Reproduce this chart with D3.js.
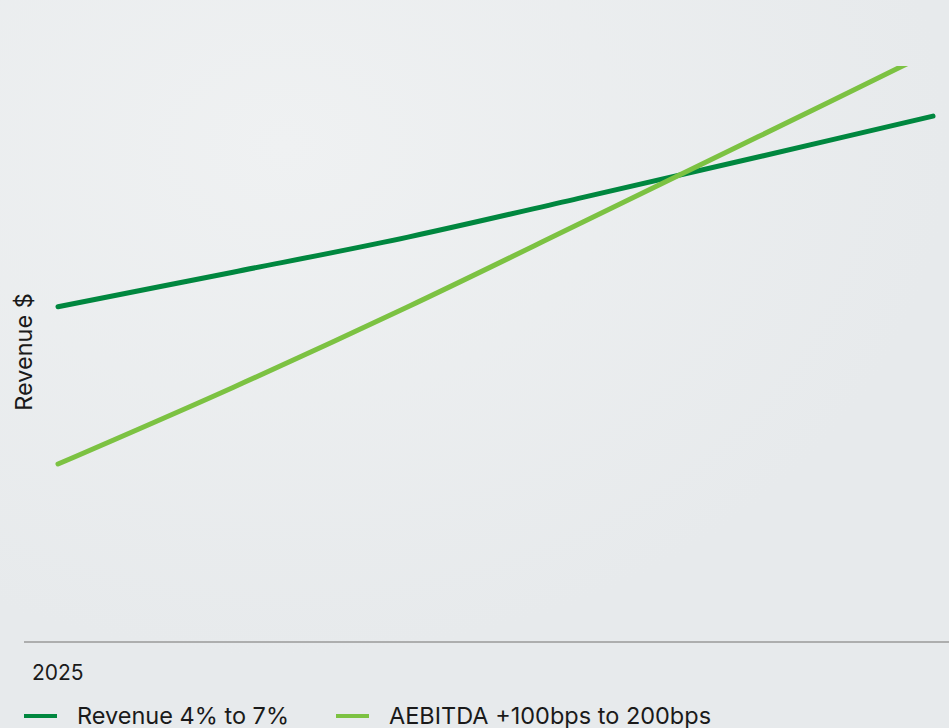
<!DOCTYPE html>
<html>
<head>
<meta charset="utf-8">
<script src="https://cdn.jsdelivr.net/npm/d3@7"></script>
<style>
  html, body { margin: 0; padding: 0; }
  body { width: 949px; height: 728px; overflow: hidden; background: #e9ecee; }
  svg { display: block; }
</style>
</head>
<body>
<svg id="chart" width="949" height="728"></svg>
<script>
// Projection years (only the first is labelled on the axis)
const years = [2025, 2026, 2027, 2028, 2029, 2030];
const tickLabels = ["2025"];

// Indexed values (0 = baseline, 100 = top of plot)
const revenue = [58.2, 64.2, 70.3, 77.2, 84.2, 91.3];
const aebitda = [30.9, 44.2, 58.2, 72.9, 87.7, 102.6];

const seriesNames = ["Revenue 4% to 7%", "AEBITDA +100bps to 200bps"];
const seriesColors = ["#00873f", "#7cc242"];

const W = 949, H = 728;
const svg = d3.select("#chart");
const font = "Inter, 'Noto Sans', sans-serif";

// soft background
const defs = svg.append("defs");
const g1 = defs.append("radialGradient").attr("id", "bgA").attr("cx", "0.3").attr("cy", "0.2").attr("r", "0.7");
g1.append("stop").attr("offset", "0").attr("stop-color", "#eff1f2");
g1.append("stop").attr("offset", "1").attr("stop-color", "#e7eaec");
svg.append("rect").attr("width", W).attr("height", H).attr("fill", "url(#bgA)");

const x = d3.scaleLinear().domain([years[0], years[years.length - 1]]).range([58, 933]);
const y = d3.scaleLinear().domain([0, 100]).range([642, 66]);

defs.append("clipPath").attr("id", "plotClip")
  .append("rect").attr("x", 0).attr("y", y(100)).attr("width", W).attr("height", y(0) - y(100));

// baseline axis
const xAxis = d3.axisBottom(x).tickValues([]).tickSize(0).tickSizeOuter(0);
const axisG = svg.append("g").attr("transform", `translate(0,${y(0)})`).call(xAxis);
axisG.select(".domain").attr("d", "M24,0H949").attr("stroke", "#9a9a9a").attr("stroke-width", 1.6);

svg.append("text")
  .attr("x", 32).attr("y", 680)
  .attr("font-family", font).attr("font-size", 21).attr("fill", "#1a1a1a")
  .text(tickLabels[0]);

// y-axis title
svg.append("text")
  .attr("transform", `translate(32,352) rotate(-90)`)
  .attr("text-anchor", "middle")
  .attr("font-family", font).attr("font-size", 23.5).attr("fill", "#1a1a1a")
  .text("Revenue $");

const line = d3.line()
  .x((d, i) => x(years[i]))
  .y(d => y(d))
  .curve(d3.curveCatmullRom.alpha(0.5));

const plot = svg.append("g").attr("clip-path", "url(#plotClip)");
[revenue, aebitda].forEach((vals, k) => {
  plot.append("path")
    .datum(vals)
    .attr("d", line)
    .attr("fill", "none")
    .attr("stroke", seriesColors[k])
    .attr("stroke-width", 5)
    .attr("stroke-linecap", "round");
});

// legend
const legendX = [24, 336];
seriesNames.forEach((name, k) => {
  const g = svg.append("g").attr("transform", `translate(${legendX[k]},716)`);
  g.append("line").attr("x1", 0).attr("x2", 33).attr("y1", 0).attr("y2", 0)
    .attr("stroke", seriesColors[k]).attr("stroke-width", 4);
  g.append("text").attr("x", 53).attr("y", 8)
    .attr("font-family", font).attr("font-size", 23.5).attr("fill", "#1a1a1a")
    .text(name);
});
</script>
</body>
</html>
